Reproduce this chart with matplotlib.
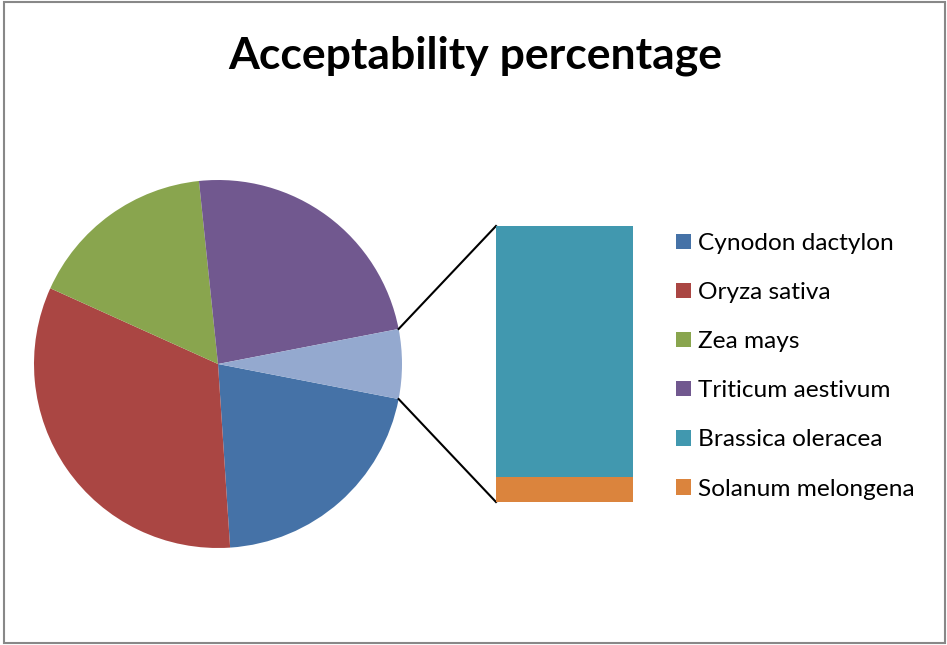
import matplotlib
matplotlib.use("Agg")
import matplotlib.pyplot as plt
from matplotlib.patches import Rectangle, Patch
import numpy as np

plt.rcParams['font.family'] = ['Lato', 'DejaVu Sans']

# acceptability (%) per species
pie_species = ['Cynodon dactylon', 'Oryza sativa', 'Zea mays', 'Triticum aestivum']
pie_values = [20.9, 32.8, 16.6, 23.6]
bar_species = ['Brassica oleracea', 'Solanum melongena']
bar_values = [5.55, 0.55]

pie_colors = ['#4572A7', '#AA4643', '#89A54E', '#71588F']
bar_colors = ['#4198AF', '#DB843D']
other_color = '#94A9CF'

W, H = 947, 645
fig = plt.figure(figsize=(W / 100, H / 100), dpi=100)
fig.patch.set_facecolor('white')

# full-figure axes in pixel units for the pie and leader lines
ax = fig.add_axes([0, 0, 1, 1])
other = sum(bar_values)
total = sum(pie_values) + other
other_deg = other / total * 360

cx, cy, r = 218, 281, 184
ax.pie(pie_values + [other], colors=pie_colors + [other_color],
       startangle=-other_deg / 2, counterclock=False,
       center=(cx, cy), radius=r, wedgeprops=dict(linewidth=0))
ax.set_xlim(0, W)
ax.set_ylim(0, H)
ax.axis('off')

# stacked bar for the split-off slice
bx0, bx1, by_top, by_bot = 496, 633, 226, 502
bax = fig.add_axes([bx0 / W, 1 - by_bot / H, (bx1 - bx0) / W, (by_bot - by_top) / H])
bottom = 0
for val, col in zip(bar_values[::-1], bar_colors[::-1]):
    bax.bar(0, val, bottom=bottom, width=1, color=col, linewidth=0)
    bottom += val
bax.set_xlim(-0.5, 0.5)
bax.set_ylim(0, other)
bax.axis('off')

# leader lines from the slice edges to the bar corners
half = np.radians(other_deg / 2)
ax.plot([cx + r * np.cos(half), bx0], [cy + r * np.sin(half), H - by_top], color='black', lw=1.5)
ax.plot([cx + r * np.cos(-half), bx0], [cy + r * np.sin(-half), H - by_bot], color='black', lw=1.5)

fig.text(475, H - 69, 'Acceptability percentage', transform=None,
         ha='center', va='baseline', fontsize=32, fontweight='bold')

handles = [Patch(facecolor=c, edgecolor='none') for c in pie_colors + bar_colors]
fig.legend(handles, pie_species + bar_species, loc='upper left',
           bbox_to_anchor=(676 / W, 1 - 233 / H), frameon=False, fontsize=17.6,
           handlelength=0.6, handleheight=0.6, handletextpad=0.3,
           labelspacing=1.15, borderpad=0, borderaxespad=0)

fig.add_artist(Rectangle((4 / W, 2 / H), 941 / W, 641 / H, transform=fig.transFigure,
                         fill=False, edgecolor='#888888', linewidth=1.5))

fig.savefig('out.png', dpi=100)
